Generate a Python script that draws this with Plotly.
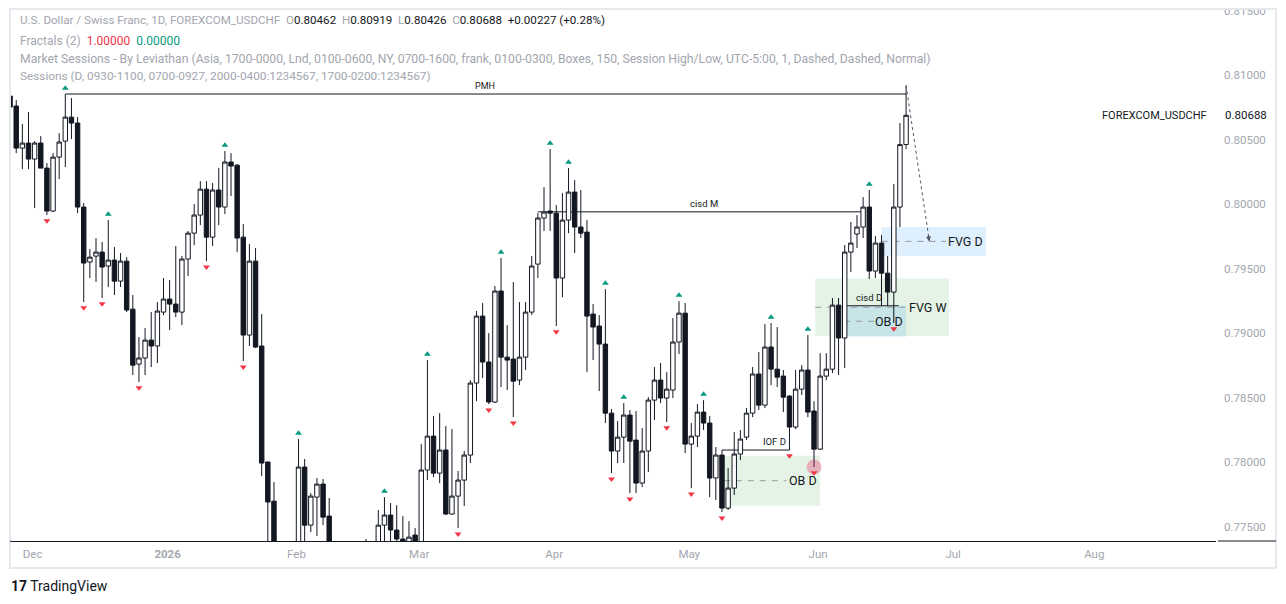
import pandas as pd
import plotly.graph_objects as go

# ---------------- data ----------------
START = "2025-11-26"
HOLIDAYS = ["2025-12-25", "2026-01-01"]

opens = [0.80837, 0.80760, 0.80434, 0.80473, 0.80349, 0.80473, 0.80279, 0.79946, 0.80364, 0.80488,
         0.80674, 0.80628, 0.79977, 0.79551, 0.79597, 0.79628, 0.79520, 0.79566, 0.79403, 0.79558,
         0.79186, 0.78760, 0.78807, 0.78946, 0.78900, 0.79163, 0.79264, 0.79225, 0.79163, 0.79574,
         0.79775, 0.79915, 0.80116, 0.79744, 0.80109, 0.79977, 0.80326, 0.80302, 0.79744, 0.78985,
         0.79558, 0.78900, 0.78001, 0.77698, 0.77180, 0.77120, 0.77200, 0.77260, 0.77962, 0.77512,
         0.77729, 0.77830, 0.77582, 0.77220, 0.77160, 0.77080, 0.77180, 0.77280, 0.77220, 0.77310,
         0.77260, 0.77512, 0.77590, 0.77474, 0.77404, 0.77370, 0.77435, 0.77360, 0.77939, 0.78202,
         0.77915, 0.78094, 0.77598, 0.77737, 0.77861, 0.78055, 0.78613, 0.79132, 0.78776, 0.78466,
         0.79326, 0.78814, 0.78799, 0.78636, 0.78814, 0.79163, 0.79535, 0.79892, 0.79946, 0.79930,
         0.79427, 0.79876, 0.80093, 0.79822, 0.79783, 0.79148, 0.79055, 0.78915, 0.78380, 0.78086,
         0.78194, 0.78365, 0.78171, 0.77838, 0.78086, 0.78481, 0.78636, 0.78497, 0.78559, 0.78931,
         0.79155, 0.78140, 0.78202, 0.78388, 0.78303, 0.77877, 0.78055, 0.77644, 0.77799, 0.78063,
         0.78194, 0.78380, 0.78683, 0.78442, 0.78892, 0.78721, 0.78667, 0.78512, 0.78272, 0.78566,
         0.78714, 0.78396, 0.78101, 0.78667, 0.78721, 0.79217, 0.78962, 0.79628, 0.79768, 0.79822,
         0.79977, 0.79481, 0.79698, 0.79465, 0.79318, 0.79977, 0.80462]
highs = [0.80868, 0.80806, 0.80620, 0.80713, 0.80488, 0.80527, 0.80318, 0.80395, 0.80550, 0.80853,
         0.80822, 0.80674, 0.80008, 0.79651, 0.79737, 0.79706, 0.79876, 0.79667, 0.79620, 0.79589,
         0.79295, 0.78969, 0.79039, 0.79163, 0.79241, 0.79427, 0.79411, 0.79675, 0.79597, 0.79791,
         0.80000, 0.80178, 0.80178, 0.80163, 0.80279, 0.80411, 0.80395, 0.80310, 0.79845, 0.79690,
         0.79659, 0.79148, 0.78005, 0.77846, 0.77320, 0.77280, 0.77340, 0.78179, 0.78024, 0.77760,
         0.77877, 0.77869, 0.77722, 0.77350, 0.77300, 0.77240, 0.77340, 0.77360, 0.77404, 0.77370,
         0.77629, 0.77729, 0.77683, 0.77667, 0.77582, 0.77543, 0.77489, 0.78140, 0.78791, 0.78357,
         0.78380, 0.78280, 0.78256, 0.77931, 0.78086, 0.78636, 0.79171, 0.79233, 0.79000, 0.79365,
         0.79582, 0.79062, 0.79396, 0.79241, 0.79241, 0.79597, 0.79930, 0.80132, 0.80426, 0.79992,
         0.80085, 0.80279, 0.80186, 0.80109, 0.79876, 0.79225, 0.79140, 0.79341, 0.78411, 0.78318,
         0.78458, 0.78404, 0.78396, 0.78264, 0.78504, 0.78737, 0.78768, 0.78698, 0.79117, 0.79248,
         0.79233, 0.78303, 0.78450, 0.78481, 0.78357, 0.78117, 0.78094, 0.77954, 0.78233, 0.78249,
         0.78419, 0.78737, 0.78853, 0.79070, 0.79078, 0.79047, 0.78714, 0.78520, 0.78714, 0.78752,
         0.78985, 0.78473, 0.78845, 0.78845, 0.79272, 0.79272, 0.79683, 0.79861, 0.79915, 0.80054,
         0.80109, 0.79752, 0.79760, 0.79597, 0.80155, 0.80628, 0.80919]
lows = [0.80574, 0.80395, 0.80271, 0.80271, 0.79969, 0.80279, 0.79915, 0.79938, 0.80194, 0.80287,
        0.80504, 0.79930, 0.79241, 0.79427, 0.79396, 0.79272, 0.79357, 0.79295, 0.79357, 0.79163,
        0.78675, 0.78621, 0.78675, 0.78737, 0.78768, 0.79140, 0.79024, 0.79124, 0.79062, 0.79442,
        0.79682, 0.79837, 0.79558, 0.79675, 0.79837, 0.79923, 0.80062, 0.79628, 0.78783, 0.78900,
        0.78884, 0.77892, 0.77300, 0.77120, 0.77050, 0.76980, 0.77100, 0.77220, 0.77340, 0.77458,
        0.77427, 0.77512, 0.77180, 0.77120, 0.77020, 0.76950, 0.77100, 0.77150, 0.77160, 0.77200,
        0.77220, 0.77340, 0.77350, 0.77340, 0.77320, 0.77310, 0.77300, 0.77280, 0.77861, 0.77884,
        0.77838, 0.77590, 0.77594, 0.77489, 0.77660, 0.77993, 0.78473, 0.78652, 0.78450, 0.78458,
        0.78582, 0.78559, 0.78349, 0.78597, 0.78714, 0.79140, 0.79427, 0.79791, 0.79791, 0.79055,
        0.79279, 0.79775, 0.79620, 0.79737, 0.78698, 0.78791, 0.78551, 0.78303, 0.77915, 0.77993,
        0.77993, 0.77760, 0.77760, 0.77807, 0.77923, 0.78326, 0.78458, 0.78311, 0.78497, 0.78838,
        0.78070, 0.77799, 0.78117, 0.78249, 0.77729, 0.77706, 0.77613, 0.77629, 0.77745, 0.78016,
        0.78171, 0.78349, 0.78404, 0.78419, 0.78597, 0.78582, 0.78388, 0.78094, 0.78256, 0.78520,
        0.78349, 0.77962, 0.78094, 0.78636, 0.78690, 0.78675, 0.78729, 0.79473, 0.79659, 0.79737,
        0.79419, 0.79427, 0.79210, 0.79210, 0.79078, 0.79822, 0.80426]
closes = [0.80752, 0.80434, 0.80473, 0.80349, 0.80473, 0.80279, 0.79946, 0.80364, 0.80481, 0.80674,
          0.80628, 0.79977, 0.79543, 0.79589, 0.79628, 0.79512, 0.79566, 0.79403, 0.79558, 0.79179,
          0.78752, 0.78807, 0.78946, 0.78900, 0.79171, 0.79264, 0.79225, 0.79163, 0.79574, 0.79775,
          0.79915, 0.80116, 0.79744, 0.80109, 0.79977, 0.80326, 0.80295, 0.79737, 0.78985, 0.79558,
          0.78892, 0.77993, 0.77691, 0.77180, 0.77120, 0.77200, 0.77260, 0.77962, 0.77512, 0.77737,
          0.77830, 0.77574, 0.77220, 0.77160, 0.77080, 0.77180, 0.77280, 0.77220, 0.77310, 0.77260,
          0.77512, 0.77590, 0.77474, 0.77404, 0.77385, 0.77419, 0.77360, 0.77939, 0.78202, 0.77915,
          0.78094, 0.77598, 0.77737, 0.77861, 0.78055, 0.78613, 0.79132, 0.78776, 0.78466, 0.79326,
          0.78814, 0.78791, 0.78628, 0.78814, 0.79163, 0.79520, 0.79892, 0.79938, 0.79930, 0.79427,
          0.79876, 0.80093, 0.79822, 0.79775, 0.79132, 0.79047, 0.78915, 0.78380, 0.78086, 0.78194,
          0.78365, 0.78163, 0.77838, 0.78086, 0.78481, 0.78636, 0.78497, 0.78566, 0.78931, 0.79155,
          0.78140, 0.78202, 0.78388, 0.78303, 0.77877, 0.78055, 0.77644, 0.77799, 0.78063, 0.78179,
          0.78380, 0.78683, 0.78442, 0.78892, 0.78721, 0.78659, 0.78504, 0.78272, 0.78566, 0.78714,
          0.78388, 0.78101, 0.78667, 0.78721, 0.79217, 0.78962, 0.79628, 0.79698, 0.79822, 0.79977,
          0.79481, 0.79698, 0.79465, 0.79318, 0.79977, 0.80461, 0.80688]

up_fractals = [9, 16, 35, 47, 61, 68, 80, 88, 91, 97, 100, 109, 113, 124, 130, 140]
down_fractals = [6, 12, 15, 21, 32, 38, 73, 78, 82, 89, 98, 101, 107, 111, 116, 127, 131, 144]

month_ticks = ["2025-12-01", "2026-01-02", "2026-02-02", "2026-03-02", "2026-04-01",
               "2026-05-01", "2026-06-01", "2026-07-01", "2026-08-03"]
month_labels = ["Dec", "<b>2026</b>", "Feb", "Mar", "Apr", "May", "Jun", "Jul", "Aug"]
price_ticks = [0.775, 0.780, 0.785, 0.790, 0.795, 0.800, 0.805, 0.810, 0.815]

# drawn levels / zones (bar index, price)
CISD_M = 0.79940
CISD_D = 0.79212
OB_D_LOW = (0.77662, 0.78050)
FVG_W = (0.78977, 0.79424)
OB_D_HIGH = (0.78972, 0.79212)
FVG_D = (0.79600, 0.79822)

# ---------------- helpers ----------------
all_days = pd.bdate_range(START, "2026-10-30")
all_days = all_days[~all_days.isin(pd.to_datetime(HOLIDAYS))]
dates = [d.strftime("%Y-%m-%d") for d in all_days[:len(opens)]]


def xi(k):
    i = int(k)
    t = all_days[i] + pd.Timedelta(days=k - i)
    return t.strftime("%Y-%m-%d %H:%M:%S")


# month labels sit slightly right of the first bar of each month
tick_pos = [(pd.Timestamp(t) + pd.Timedelta(hours=16)).strftime("%Y-%m-%d %H:%M:%S") for t in month_ticks]

INK = "#131722"
GRAY = "#a3a6af"
TEAL = "#089981"
RED = "#f23645"
DASH = "#9598a1"
GREEN_FILL = "rgba(76,175,80,0.15)"
BLUE_FILL = "rgba(33,150,243,0.15)"
FONT = "Roboto"

fig = go.Figure()
fig.add_trace(go.Candlestick(
    x=dates, open=opens, high=highs, low=lows, close=closes,
    increasing=dict(line=dict(color=INK, width=1), fillcolor="white"),
    decreasing=dict(line=dict(color=INK, width=1), fillcolor=INK),
    whiskerwidth=0, hoverinfo="skip", showlegend=False))

# highlighted low
fig.add_trace(go.Scatter(x=[dates[131]], y=[lows[131]], mode="markers",
                         marker=dict(size=15, color="rgba(233,30,99,0.32)"),
                         hoverinfo="skip", showlegend=False))

GAP = 0.00045
fig.add_trace(go.Scatter(x=[dates[i] for i in up_fractals], y=[highs[i] + GAP for i in up_fractals],
                         mode="markers", marker=dict(symbol="triangle-up", size=6, color=TEAL),
                         hoverinfo="skip", showlegend=False))
fig.add_trace(go.Scatter(x=[dates[i] for i in down_fractals], y=[lows[i] - GAP for i in down_fractals],
                         mode="markers", marker=dict(symbol="triangle-down", size=6, color=RED),
                         hoverinfo="skip", showlegend=False))

shapes = []


def box(k0, k1, lo, hi, fill):
    shapes.append(dict(type="rect", xref="x", yref="y", x0=xi(k0), x1=xi(k1), y0=lo, y1=hi,
                       fillcolor=fill, line=dict(width=0), layer="below"))


def hline(k0, k1, y, color=INK, dash="solid", width=1, layer="below"):
    shapes.append(dict(type="line", xref="x", yref="y", x0=xi(k0), x1=xi(k1), y0=y, y1=y,
                       line=dict(color=color, width=width, dash=dash), layer=layer))


box(116, 132, OB_D_LOW[0], OB_D_LOW[1], GREEN_FILL)
box(131.2, 153, FVG_W[0], FVG_W[1], GREEN_FILL)
box(135.9, 146, OB_D_HIGH[0], OB_D_HIGH[1], BLUE_FILL)
box(142, 159, FVG_D[0], FVG_D[1], BLUE_FILL)

hline(9, 146, highs[9])
hline(86, 139, CISD_M)
hline(135.6, 144.8, CISD_D)
hline(116, 127, highs[116])

hline(116.3, 126.5, sum(OB_D_LOW) / 2, DASH, "6px,6px")
hline(131.2, 146, sum(FVG_W) / 2, DASH, "6px,6px")
hline(135.9, 141.5, sum(OB_D_HIGH) / 2, DASH, "6px,6px")
hline(142, 152.5, sum(FVG_D) / 2, DASH, "6px,6px")

# dotted projection line
shapes.append(dict(type="line", xref="x", yref="y", x0=xi(146), y0=highs[146], x1=xi(149.8),
                   y1=sum(FVG_D) / 2, line=dict(color="#555861", width=1, dash="dot"), layer="above"))

# frame
px = lambda X: (X - 11) / 1205.0
py = lambda Y: (541 - Y) / 532.0
shapes.append(dict(type="rect", xref="paper", yref="paper", x0=px(-5), x1=px(1300), y0=py(8.5), y1=py(-5),
                   fillcolor="white", line=dict(width=0), layer="above"))
shapes.append(dict(type="rect", xref="paper", yref="paper", x0=px(10), x1=px(1276), y0=py(568), y1=py(9),
                   fillcolor="rgba(0,0,0,0)", line=dict(color="#e6e8ed", width=2), layer="above"))
shapes.append(dict(type="line", xref="paper", yref="paper", x0=px(1218), x1=px(1276), y0=0, y1=0,
                   line=dict(color=INK, width=1), layer="above"))
shapes.append(dict(type="line", xref="paper", yref="paper", x0=px(10), x1=px(11), y0=0, y1=0,
                   line=dict(color=INK, width=1), layer="above"))

ann = []


def label(k, y, text, size, anchor="middle", yshift=0):
    ann.append(dict(xref="x", yref="y", x=xi(k), y=y, text=text, showarrow=False,
                    font=dict(family=FONT, size=size, color=INK), xanchor="center",
                    yanchor=anchor, yshift=yshift))


label(77.4, highs[9], "PMH", 9, "bottom", 1)
label(113, CISD_M, "cisd M", 9.5, "bottom", 1)
label(140, CISD_D, "cisd D", 9.5, "bottom", 1)
label(124.5, highs[116], "IOF D", 9.5, "bottom", 1)
label(129.2, sum(OB_D_LOW) / 2, "OB D", 12.5)
label(149.6, sum(FVG_W) / 2, "FVG W", 12.5)
label(143.2, sum(OB_D_HIGH) / 2, "OB D", 12.5)
label(155.7, sum(FVG_D) / 2, "FVG D", 12.5)

# arrow head of the projection
ann.append(dict(xref="x", yref="y", axref="x", ayref="y", x=xi(149.8), y=sum(FVG_D) / 2,
                ax=xi(149.55), ay=sum(FVG_D) / 2 + 0.0006, text="", showarrow=True,
                arrowhead=2, arrowsize=1, arrowwidth=1, arrowcolor="#555861"))

# header legend
sp = "\u00a0\u00a0"
chg = closes[-1] - closes[-2]
pct = chg / closes[-2] * 100
g = lambda s: f"<span style='color:{GRAY}'>{s}</span>"
line1 = (g("U.S. Dollar / Swiss Franc, 1D, FOREXCOM_USDCHF") + sp +
         g("O") + f"{opens[-1]:.5f}" + sp + g("H") + f"{highs[-1]:.5f}" + sp +
         g("L") + f"{lows[-1]:.5f}" + sp + g("C") + f"{closes[-1]:.5f}" + sp +
         f"{chg:+.5f} ({pct:+.2f}%)")
line2 = (g("Fractals (2)") + sp + f"<span style='color:{RED}'>1.00000</span>" + sp +
         f"<span style='color:{TEAL}'>0.00000</span>")
line3 = g("Market Sessions - By Leviathan (Asia, 1700-0000, Lnd, 0100-0600, NY, 0700-1600, frank, "
          "0100-0300, Boxes, 150, Session High/Low, UTC-5:00, 1, Dashed, Dashed, Normal)")
line4 = g("Sessions (D, 0930-1100, 0700-0927, 2000-0400:1234567, 1700-0200:1234567)")
for Y, t, s in [(20, line1, 11.6), (41, line2, 12.0), (59, line3, 12.2), (76, line4, 11.8)]:
    ann.append(dict(xref="paper", yref="paper", x=px(18), y=py(Y), text=t, showarrow=False,
                    xanchor="left", yanchor="middle", font=dict(family=FONT, size=s, color=INK)))

ann.append(dict(xref="paper", yref="y", x=px(1209), y=closes[-1], text="FOREXCOM_USDCHF",
                showarrow=False, xanchor="right", yanchor="middle",
                font=dict(family=FONT, size=11, color=INK)))
ann.append(dict(xref="paper", yref="y", x=px(1223), y=closes[-1], text=f"{closes[-1]:.5f}",
                showarrow=False, xanchor="left", yanchor="middle",
                font=dict(family=FONT, size=11.5, color=INK)))
ann.append(dict(xref="paper", yref="paper", x=px(9), y=py(586),
                text="<b>17</b> TradingView", showarrow=False, xanchor="left", yanchor="middle",
                font=dict(family=FONT, size=14, color=INK)))

fig.update_layout(
    width=1286, height=604,
    margin=dict(l=11, r=70, t=9, b=63),
    paper_bgcolor="white", plot_bgcolor="white",
    showlegend=False, hovermode=False,
    boxgap=0.1, boxgroupgap=0.2,
    font=dict(family=FONT, size=11, color=INK),
    shapes=shapes, annotations=ann,
    xaxis=dict(type="date", range=[xi(0.15), xi(196.5)], automargin=False,
               rangebreaks=[dict(bounds=["sat", "mon"]), dict(values=HOLIDAYS)],
               rangeslider=dict(visible=False), tickvals=tick_pos, ticktext=month_labels,
               showgrid=False, zeroline=False, showline=True, linecolor=INK, linewidth=1,
               ticks="", tickfont=dict(family=FONT, size=11.5, color=GRAY), ticklabelstandoff=2),
    yaxis=dict(side="right", range=[0.77389, 0.81512], tickvals=price_ticks, tickformat=".5f",
               automargin=False, showgrid=False, zeroline=False, showline=False, ticks="",
               tickfont=dict(family=FONT, size=11.5, color=GRAY), ticklabelstandoff=7),
)

fig.write_html("out.html", config={"displayModeBar": False},
               post_script="document.body.style.margin='0px';")
